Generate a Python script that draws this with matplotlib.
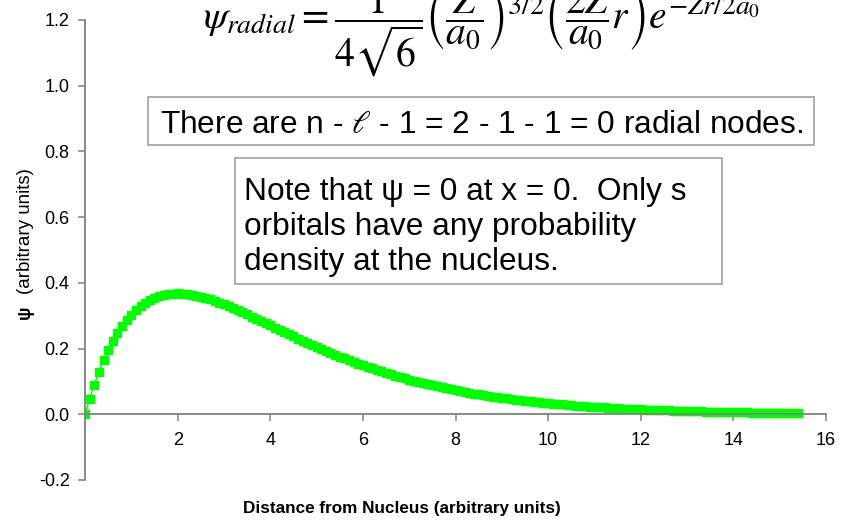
import numpy as np
import matplotlib.pyplot as plt
from matplotlib.patches import Rectangle

plt.rcParams['font.family'] = ['Liberation Sans', 'DejaVu Sans']
plt.rcParams['mathtext.fontset'] = 'stix'

# 2p radial wavefunction, sampled every 0.1 distance units
r_step = 0.1
psi = [
    0.0000, 0.0476, 0.0905, 0.1291, 0.1637, 0.1947, 0.2222, 0.2466, 0.2681, 0.2869,
    0.3033, 0.3173, 0.3293, 0.3393, 0.3476, 0.3543, 0.3595, 0.3633, 0.3659, 0.3674,
    0.3679, 0.3674, 0.3662, 0.3641, 0.3614, 0.3581, 0.3543, 0.3500, 0.3452, 0.3401,
    0.3347, 0.3290, 0.3230, 0.3169, 0.3106, 0.3041, 0.2975, 0.2909, 0.2842, 0.2774,
    0.2707, 0.2639, 0.2572, 0.2504, 0.2438, 0.2371, 0.2306, 0.2241, 0.2177, 0.2114,
    0.2052, 0.1991, 0.1931, 0.1872, 0.1815, 0.1758, 0.1703, 0.1649, 0.1596, 0.1544,
    0.1494, 0.1444, 0.1397, 0.1350, 0.1304, 0.1260, 0.1217, 0.1175, 0.1135, 0.1095,
    0.1057, 0.1020, 0.0984, 0.0949, 0.0915, 0.0882, 0.0850, 0.0819, 0.0789, 0.0761,
    0.0733, 0.0706, 0.0679, 0.0654, 0.0630, 0.0606, 0.0583, 0.0561, 0.0540, 0.0520,
    0.0500, 0.0481, 0.0462, 0.0445, 0.0427, 0.0411, 0.0395, 0.0380, 0.0365, 0.0351,
    0.0337, 0.0324, 0.0311, 0.0299, 0.0287, 0.0276, 0.0265, 0.0254, 0.0244, 0.0234,
    0.0225, 0.0216, 0.0207, 0.0199, 0.0191, 0.0183, 0.0176, 0.0168, 0.0162, 0.0155,
    0.0149, 0.0143, 0.0137, 0.0131, 0.0126, 0.0121, 0.0116, 0.0111, 0.0106, 0.0102,
    0.0098, 0.0094, 0.0090, 0.0086, 0.0082, 0.0079, 0.0076, 0.0073, 0.0070, 0.0067,
    0.0064, 0.0061, 0.0059, 0.0056, 0.0054, 0.0051, 0.0049, 0.0047, 0.0045, 0.0043,
    0.0041, 0.0040, 0.0038, 0.0036, 0.0035,
]
r = np.arange(len(psi)) * r_step

x_ticks = [2, 4, 6, 8, 10, 12, 14, 16]
y_ticks = [-0.2, 0.0, 0.2, 0.4, 0.6, 0.8, 1.0, 1.2]

W, H = 841, 525
fig = plt.figure(figsize=(W / 100, H / 100), dpi=100)


def fx(px):
    return px / W


def fy(py):
    return 1 - py / H


ax = fig.add_axes([fx(85), fy(480), fx(826) - fx(85), fy(20) - fy(480)])
ax.plot(r, psi, color='#00ff00', lw=1, marker='s', ms=5.2, mec='#00ff00', mfc='#00ff00')
ax.set_xlim(0, 16)
ax.set_ylim(-0.2, 1.2)

grey = '#808080'
for side in ['top', 'right']:
    ax.spines[side].set_visible(False)
ax.spines['bottom'].set_position(('data', 0))
for side in ['left', 'bottom']:
    ax.spines[side].set_color(grey)
    ax.spines[side].set_linewidth(1.3)
ax.set_xticks(x_ticks)
ax.set_yticks(y_ticks)
ax.set_yticklabels([f'{v:.1f}' for v in y_ticks])
ax.tick_params(axis='both', direction='out', length=5, width=1.1, color=grey,
               labelsize=13)
ax.tick_params(axis='x', pad=8)
ax.tick_params(axis='y', pad=6)

# axis titles placed in figure pixels
fig.text(fx(402), fy(508), 'Distance from Nucleus (arbitrary units)', fontsize=12.3,
         fontweight='bold', ha='center', va='center')
fig.text(fx(25), fy(231), '(arbitrary units)', rotation=90, fontsize=13.5,
         ha='center', va='center')
fig.text(fx(25), fy(312), 'ψ', rotation=90, fontsize=13, fontweight='bold',
         ha='center', va='center')

# wavefunction expression at the top
fig.text(fx(203), fy(28),
         r'$\psi_{radial} = \dfrac{1}{4\sqrt{6}}\left(\dfrac{Z}{a_0}\right)^{3/2}'
         r'\left(\dfrac{2Z}{a_0}r\right)e^{-Zr/2a_0}$',
         fontsize=28.5, ha='left', va='baseline')

# annotation boxes
box_kw = dict(facecolor='white', edgecolor='#a0a0a0', lw=1.2, transform=fig.transFigure)
fig.add_artist(Rectangle((fx(148), fy(145)), fx(814) - fx(148), fy(97) - fy(145), **box_kw))
fig.text(fx(160), fy(133), r'There are n - $\ell$ - 1 = 2 - 1 - 1 = 0 radial nodes.',
         fontsize=22.8, ha='left', va='baseline')

fig.add_artist(Rectangle((fx(235), fy(284)), fx(722) - fx(235), fy(158) - fy(284), **box_kw))
note_lines = ['Note that ψ = 0 at x = 0.  Only s', 'orbitals have any probability',
              'density at the nucleus.']
for i, line in enumerate(note_lines):
    fig.text(fx(244), fy(200 + 35 * i), line, fontsize=22.8, ha='left', va='baseline')

fig.savefig('out.png', dpi=100)
